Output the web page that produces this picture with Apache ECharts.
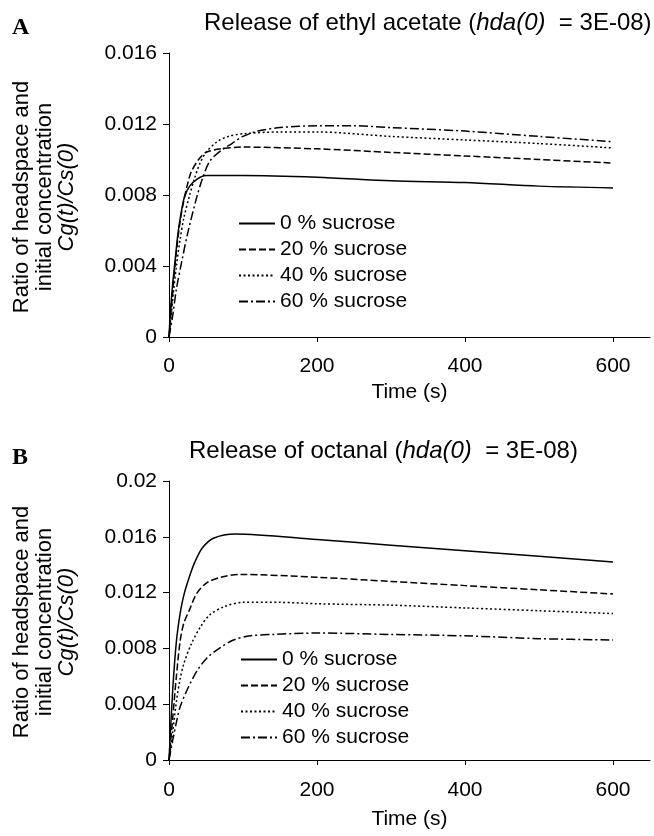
<!DOCTYPE html>
<html><head><meta charset="utf-8">
<script src="https://cdn.jsdelivr.net/npm/echarts@6/dist/echarts.min.js"></script>
<style>html,body{margin:0;padding:0;background:#fff}#c{width:654px;height:836px}</style>
</head><body><div id="c"></div>
<script>
const seriesNames = ['0 % sucrose', '20 % sucrose', '40 % sucrose', '60 % sucrose'];
const xTickValues = [0, 200, 400, 600];

// Panel A: ethyl acetate  [time (s), Cg(t)/Cs(0)]
const ethyl0 = [[0,0],[2,0.0015],[5,0.003],[8,0.0042],[12,0.0058],[16,0.0069],[21,0.0079],[28,0.0085],[38,0.0089],[50,0.0091],[100,0.0091],[200,0.0090],[300,0.0088],[400,0.0087],[500,0.0085],[600,0.0084]];
const ethyl20 = [[0,0],[3,0.0015],[6,0.003],[10,0.0048],[15,0.0065],[20,0.0077],[25,0.0086],[30,0.0093],[40,0.0100],[50,0.0104],[70,0.0106],[100,0.0107],[200,0.0106],[300,0.0104],[400,0.0102],[500,0.0100],[600,0.0098]];
const ethyl40 = [[0,0],[3,0.0012],[6,0.0025],[10,0.004],[15,0.0055],[20,0.0067],[28,0.0080],[35,0.0090],[42,0.0098],[50,0.0104],[65,0.0110],[80,0.0113],[100,0.01145],[150,0.01155],[200,0.01155],[300,0.0113],[400,0.0111],[500,0.0109],[600,0.01065]];
const ethyl60 = [[0,0],[5,0.0012],[10,0.0027],[17,0.0042],[25,0.0058],[37,0.0078],[45,0.0089],[55,0.0099],[70,0.0105],[85,0.0109],[100,0.0113],[120,0.0116],[150,0.0118],[200,0.0119],[250,0.0119],[300,0.0118],[400,0.0116],[500,0.0113],[600,0.0110]];

// Panel B: octanal
const octanal0 = [[0,0],[5,0.005],[10,0.0085],[15,0.0105],[20,0.0118],[28,0.0132],[35,0.0142],[45,0.0152],[60,0.0159],[90,0.0162],[200,0.0158],[300,0.0154],[400,0.0150],[500,0.0146],[600,0.0142]];
const octanal20 = [[0,0],[5,0.003],[10,0.006],[15,0.0085],[20,0.0098],[28,0.0108],[37,0.0119],[51,0.0127],[70,0.0131],[95,0.0133],[200,0.0131],[300,0.0128],[400,0.0125],[500,0.0122],[600,0.0119]];
const octanal40 = [[0,0],[5,0.002],[10,0.0042],[15,0.0058],[20,0.0069],[30,0.0083],[42,0.0095],[55,0.0104],[75,0.0110],[100,0.0113],[150,0.0113],[200,0.0112],[300,0.0111],[400,0.0109],[500,0.0107],[600,0.0105]];
const octanal60 = [[0,0],[5,0.0014],[10,0.0027],[15,0.0038],[26,0.0052],[38,0.0064],[51,0.0073],[65,0.0079],[87,0.0086],[110,0.0089],[140,0.0090],[200,0.0091],[300,0.0090],[400,0.0089],[500,0.0087],[600,0.0086]];

const FONT = '"Liberation Sans", Arial, sans-serif';
const dashTypes = ['solid', [7, 3], [2, 2.5], [9, 3, 2, 3]];

const chart = echarts.init(document.getElementById('c'), null, {renderer: 'canvas'});

function xAxisDef(gridIndex, nameGap, margin) {
  return {
    gridIndex, type: 'value', min: 0, max: 650,
    name: 'Time (s)', nameLocation: 'middle', nameGap,
    nameTextStyle: {fontFamily: FONT, fontSize: 21, color: '#000'},
    axisLine: {show: true, lineStyle: {color: '#000', width: 1}},
    axisTick: {show: true, inside: false, length: 5, lineStyle: {color: '#000'}, customValues: xTickValues},
    axisLabel: {fontFamily: FONT, fontSize: 21, color: '#000', margin, customValues: xTickValues},
    splitLine: {show: false}
  };
}
function yAxisDef(gridIndex, max) {
  return {
    gridIndex, type: 'value', min: 0, max, interval: 0.004,
    axisLine: {show: true, lineStyle: {color: '#000', width: 1}},
    axisTick: {show: true, inside: false, length: 6, lineStyle: {color: '#000'}},
    axisLabel: {fontFamily: FONT, fontSize: 21, color: '#000', margin: 12},
    splitLine: {show: false}
  };
}
function mkSeries(data, i, idx) {
  return {
    type: 'line', name: seriesNames[i], xAxisIndex: idx, yAxisIndex: idx,
    data, symbol: 'none', smooth: 0.3, silent: true,
    lineStyle: {color: '#000', width: 1.5, type: dashTypes[i]},
    itemStyle: {color: '#000'}
  };
}
function legendDef(left, top) {
  return {
    orient: 'vertical', left, top, itemWidth: 36, itemHeight: 14, itemGap: 5,
    itemStyle: {opacity: 0},
    textStyle: {fontFamily: FONT, fontSize: 21, color: '#000', lineHeight: 21},
    data: seriesNames, selectedMode: false
  };
}

const titleStyle = {fontFamily: FONT, fontSize: 24, fontWeight: 'normal', color: '#000',
  rich: {it: {fontFamily: FONT, fontSize: 24, fontStyle: 'italic', color: '#000'}}};
const nameFont = '22px "Liberation Sans", Arial, sans-serif';
const nameFontIt = 'italic 22px "Liberation Sans", Arial, sans-serif';

function yName(cy) {
  return [
    {type: 'text', x: 22, y: cy, rotation: Math.PI / 2, style: {text: 'Ratio of headspace and', font: nameFont, fill: '#000', align: 'center', verticalAlign: 'middle'}},
    {type: 'text', x: 45, y: cy, rotation: Math.PI / 2, style: {text: 'initial concentration', font: nameFont, fill: '#000', align: 'center', verticalAlign: 'middle'}},
    {type: 'text', x: 67, y: cy, rotation: Math.PI / 2, style: {text: 'Cg(t)/Cs(0)', font: nameFontIt, fill: '#000', align: 'center', verticalAlign: 'middle'}}
  ];
}

chart.setOption({
  animation: false,
  backgroundColor: '#fff',
  title: [
    {text: 'Release of ethyl acetate ({it|hda(0)}  = 3E-08)', left: 199, top: 6, textStyle: titleStyle},
    {text: 'Release of octanal ({it|hda(0)}  = 3E-08)', left: 184, top: 434, textStyle: titleStyle}
  ],
  grid: [
    {left: 169, top: 53, width: 481, height: 284},
    {left: 169, top: 481, width: 481, height: 279}
  ],
  xAxis: [xAxisDef(0, 45, 19), xAxisDef(1, 49, 20)],
  yAxis: [yAxisDef(0, 0.016), yAxisDef(1, 0.02)],
  legend: [legendDef(233, 208), legendDef(235, 644)],
  series: [
    mkSeries(ethyl0, 0, 0), mkSeries(ethyl20, 1, 0), mkSeries(ethyl40, 2, 0), mkSeries(ethyl60, 3, 0),
    mkSeries(octanal0, 0, 1), mkSeries(octanal20, 1, 1), mkSeries(octanal40, 2, 1), mkSeries(octanal60, 3, 1)
  ],
  graphic: [
    {type: 'text', left: 12, top: 16, style: {text: 'A', font: 'bold 24px "Liberation Serif", serif', fill: '#000'}},
    {type: 'text', left: 12, top: 446, style: {text: 'B', font: 'bold 24px "Liberation Serif", serif', fill: '#000'}}
  ].concat(yName(197), yName(622))
});
</script>
</body></html>
